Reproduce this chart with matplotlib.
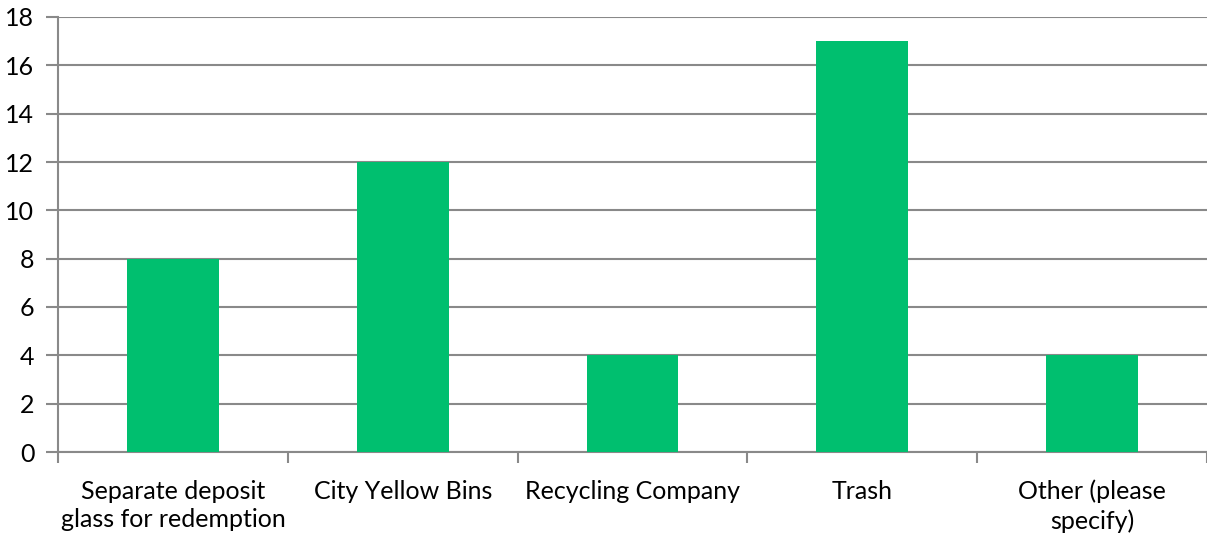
import matplotlib
matplotlib.use("Agg")
import matplotlib.pyplot as plt
import numpy as np

categories = [
    "Separate deposit\nglass for redemption",
    "City Yellow Bins",
    "Recycling Company",
    "Trash",
    "Other (please\nspecify)",
]
counts = [8, 12, 4, 17, 4]
y_ticks = [0, 2, 4, 6, 8, 10, 12, 14, 16, 18]

W, H, DPI = 1207, 536, 100
plt.rcParams["font.family"] = ["Lato", "DejaVu Sans"]

fig = plt.figure(figsize=(W / DPI, H / DPI), dpi=DPI)
ax = fig.add_axes([58 / W, 1 - 452 / H, 1 - 58 / W, (452 - 17) / H])

grid_color = "#898989"
x = np.arange(len(categories))
ax.bar(x, counts, width=0.4, color="#00BF6F", zorder=3)

ax.set_xlim(-0.5, len(categories) - 0.5)
ax.set_ylim(0, 18)
ax.set_yticks(y_ticks)
ax.set_yticklabels([str(v) for v in y_ticks], fontsize=18)
ax.yaxis.grid(True, color=grid_color, linewidth=1.5, zorder=0)
ax.set_axisbelow(True)

# category labels centred under each bar; ticks at category boundaries
ax.set_xticks(x)
ax.set_xticklabels(categories, fontsize=18, linespacing=1.3)
ax.tick_params(axis="x", length=0, pad=20)
ax.set_xticks(np.arange(len(categories) + 1) - 0.5, minor=True)
ax.tick_params(axis="x", which="minor", length=8, width=1.5, color=grid_color)
ax.tick_params(axis="y", length=9, width=1.5, color=grid_color, pad=8)

for side in ["top", "right"]:
    ax.spines[side].set_visible(False)
for side in ["left", "bottom"]:
    ax.spines[side].set_color(grid_color)
    ax.spines[side].set_linewidth(1.5)

fig.savefig("out.png", dpi=DPI)
